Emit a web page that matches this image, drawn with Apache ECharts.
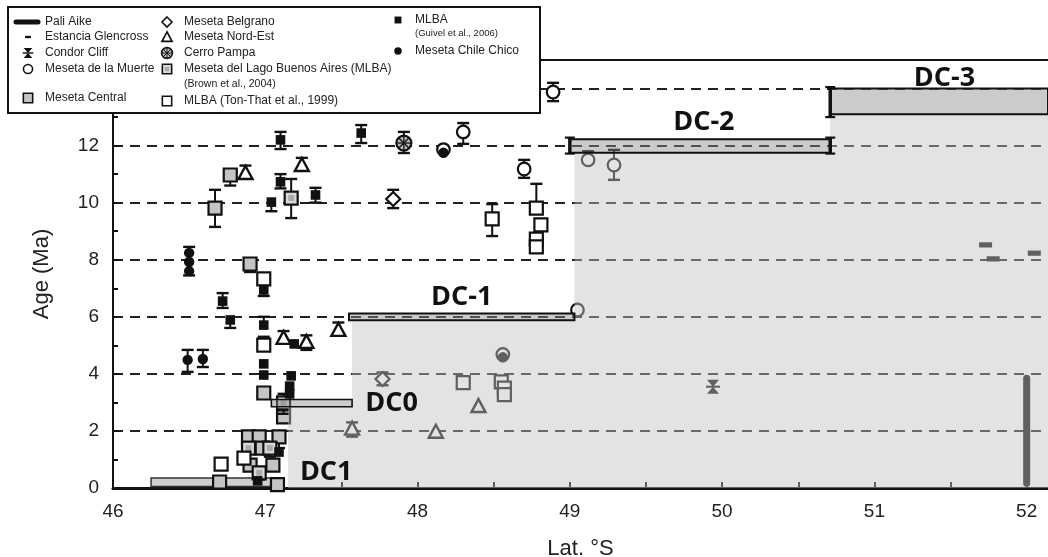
<!DOCTYPE html>
<html><head><meta charset="utf-8">
<script src="https://cdn.jsdelivr.net/npm/echarts@6/dist/echarts.min.js"></script>
<style>html,body{margin:0;padding:0;background:#fff}#c{width:1048px;height:557px}</style>
</head><body><div id="c"></div><script>
// ---------- tick labels ----------
const xLabelValues = [46, 47, 48, 49, 50, 51, 52];
const yLabelValues = [0, 2, 4, 6, 8, 10, 12, 14];

// ---------- data: [lat, age, errLow, errHigh] ----------
const paliAike = [[52.0, 0.17, 3.85]]; // [lat, ageFrom, ageTo]
const estanciaGlencross = [[51.73, 8.52], [51.78, 8.03], [52.05, 8.23]];
const condorCliff = [[49.94, 3.55]];
const mesetaMuerte = [[48.30, 12.48, 12.06, 12.79], [48.17, 11.86, null, null], [48.89, 13.88, 13.56, 14.2],
  [48.70, 11.18, 10.87, 11.5], [49.12, 11.5, null, 11.8], [49.29, 11.32, 10.8, 11.85], [49.05, 6.24, null, null],
  [48.56, 4.68, null, null]];
const mesetaCentral = [[46.67, 9.81, 9.15, 10.45], [46.77, 10.97, 10.6, null], [46.90, 7.85, 7.57, null],
  [46.99, 3.33, null, null], [47.12, 2.49, null, null], [46.70, 0.21, null, null], [46.89, 1.79, 1.45, null],
  [46.96, 1.79, null, null], [47.09, 1.79, 1.4, null], [46.98, 1.40, null, null], [46.90, 0.80, null, null],
  [47.05, 0.80, null, null], [47.08, 0.12, null, null]];
const mlbaBrown = [[47.17, 10.16, 9.46, 10.83], [47.12, 2.98, 2.6, 3.3], [46.89, 1.40, null, null],
  [47.03, 1.40, 1.1, null], [46.96, 0.53, 0.3, null]];
const mlbaTonThat = [[46.99, 7.33, null, null], [46.99, 5.01, 4.85, 5.3], [48.49, 9.43, 8.83, 9.95],
  [48.78, 9.81, null, 10.66], [48.81, 9.22, null, null], [48.78, 8.72, null, null], [48.78, 8.45, null, null],
  [48.30, 3.69, null, null], [48.55, 3.72, null, null], [48.57, 3.50, null, null], [48.57, 3.27, null, null],
  [46.71, 0.84, null, null], [46.86, 1.05, null, null]];
const mesetaBelgrano = [[47.84, 10.13, 9.81, 10.45], [47.77, 3.82, 3.6, 4.05]];
const mesetaNordEst = [[46.87, 11.04, null, 11.3], [47.24, 11.32, null, 11.57], [47.12, 5.26, null, 5.5],
  [47.27, 5.12, 4.84, 5.35], [47.48, 5.54, null, 5.8], [47.57, 2.08, 1.8, 2.3], [48.12, 1.97, 1.85, null],
  [48.40, 2.87, null, null]];
const cerroPampa = [[47.91, 12.09, 11.74, 12.48]];
const mlbaGuivel = [[47.10, 12.2, 11.88, 12.48], [47.10, 10.73, 10.5, 11.0], [47.04, 10.02, 9.7, null],
  [47.33, 10.27, 10.0, 10.52], [47.63, 12.44, 12.09, 12.72], [46.99, 6.94, 6.73, null], [46.72, 6.55, 6.31, 6.83],
  [46.77, 5.89, 5.61, null], [46.99, 5.71, null, 6.0], [46.99, 4.35, null, null], [46.99, 3.96, null, null],
  [47.19, 5.05, null, null], [47.17, 3.93, null, null], [47.16, 3.57, null, null], [47.16, 3.30, null, null],
  [47.09, 1.26, null, null], [46.95, 0.25, null, null]];
const mesetaChileChico = [[46.50, 8.24, null, null], [46.50, 7.92, 7.45, 8.45], [46.50, 7.6, null, null],
  [46.49, 4.49, 4.07, 4.84], [46.59, 4.52, 4.24, 4.84], [48.17, 11.75, null, null], [48.56, 4.58, null, null]];

// ---------- shaded domain (step outline) ----------
const overlayLat = [47.15, 47.57, 49.03, 50.71, 52.14];
const overlayTop = [2.85, 5.88, 11.75, 13.1];

// ---------- DC bars ----------
const dcBarLat0 = [46.25, 47.04, 47.55, 49.0, 50.71];
const dcBarLat1 = [47.08, 47.57, 49.03, 50.71, 52.14];
const dcBarLo = [0.05, 2.85, 5.88, 11.75, 13.1];
const dcBarHi = [0.35, 3.1, 6.12, 12.22, 14.0];
const dcMarkLat = [49.0, 50.71, 50.71];
const dcMarkLo = [11.72, 11.72, 13.0];
const dcMarkHi = [12.28, 12.28, 14.05];
const dcLabels = ['DC1', 'DC0', 'DC-1', 'DC-2', 'DC-3'];
const dcLabelLat = [47.40, 47.83, 48.29, 49.88, 51.46];
const dcLabelAge = [0.56, 2.98, 6.70, 12.83, 14.37];

// ---------- drawing helpers ----------
const INK = '#111';
function ln(x1, y1, x2, y2, w, color) {
  return {type: 'line', shape: {x1, y1, x2, y2}, style: {stroke: color || INK, lineWidth: w || 2}};
}
function marker(kind, x, y, s) {
  const k = s || 1;
  const lw = 2.2 * k;
  if (kind === 'sqGray' || kind === 'sqBrown' || kind === 'sqWhite') {
    const h = 6.5 * k;
    const fill = kind === 'sqGray' ? '#c4c4c4' : kind === 'sqBrown' ? '#d8d8d8' : '#fff';
    const els = [{type: 'rect', shape: {x: x - h, y: y - h, width: 2 * h, height: 2 * h}, style: {fill, stroke: INK, lineWidth: lw}}];
    if (kind === 'sqBrown') els.push({type: 'rect', shape: {x: x - h * 0.45, y: y - h * 0.45, width: h * 0.9, height: h * 0.9}, style: {fill: '#aaa'}});
    return els;
  }
  if (kind === 'sqBlack') {
    const h = 4.8 * k;
    return [{type: 'rect', shape: {x: x - h, y: y - h, width: 2 * h, height: 2 * h}, style: {fill: INK}}];
  }
  if (kind === 'circBlack') return [{type: 'circle', shape: {cx: x, cy: y, r: 5.2 * k}, style: {fill: INK}}];
  if (kind === 'circOpen') return [{type: 'circle', shape: {cx: x, cy: y, r: 6.3 * k}, style: {fill: '#fff', stroke: INK, lineWidth: lw}}];
  if (kind === 'diamond') {
    const r = 7 * k;
    return [{type: 'polygon', shape: {points: [[x, y - r], [x + r, y], [x, y + r], [x - r, y]]}, style: {fill: '#fff', stroke: INK, lineWidth: lw}}];
  }
  if (kind === 'tri') {
    const r = 7 * k;
    return [{type: 'polygon', shape: {points: [[x, y - r], [x + r, y + r * 0.85], [x - r, y + r * 0.85]]}, style: {fill: '#fff', stroke: INK, lineWidth: 2.4 * k}}];
  }
  if (kind === 'cerro') {
    const r = 7.5 * k, d = r * 0.7;
    return [{type: 'circle', shape: {cx: x, cy: y, r}, style: {fill: '#bbb', stroke: INK, lineWidth: lw}},
      ln(x - r, y, x + r, y, 1.3 * k), ln(x, y - r, x, y + r, 1.3 * k),
      ln(x - d, y - d, x + d, y + d, 1.3 * k), ln(x - d, y + d, x + d, y - d, 1.3 * k)];
  }
  if (kind === 'condor') {
    const w = 6 * k, h = 7 * k;
    return [{type: 'polygon', shape: {points: [[x - w, y - h], [x + w, y - h], [x - w, y + h], [x + w, y + h]]}, style: {fill: INK}},
      ln(x - w - 1, y, x + w + 1, y, 2 * k)];
  }
  if (kind === 'dash') {
    return [{type: 'rect', shape: {x: x - 6.5 * k, y: y - 2.6 * k, width: 13 * k, height: 5.2 * k}, style: {fill: INK}}];
  }
  return [];
}

function pointSeries(name, arr, kind) {
  return {
    type: 'custom', name, z: 2, clip: false,
    data: arr.map(d => [d[0], d[1]]),
    renderItem: (params, api) => {
      const d = arr[params.dataIndex];
      const p = api.coord([d[0], d[1]]);
      const children = [];
      const lo = d[2], hi = d[3];
      if (lo != null || hi != null) {
        const a = api.coord([d[0], lo != null ? lo : d[1]]);
        const b = api.coord([d[0], hi != null ? hi : d[1]]);
        children.push(ln(p[0], a[1], p[0], b[1], 2));
        if (lo != null) children.push(ln(p[0] - 6, a[1], p[0] + 6, a[1], 2.4));
        if (hi != null) children.push(ln(p[0] - 6, b[1], p[0] + 6, b[1], 2.4));
      }
      marker(kind, p[0], p[1], 1).forEach(e => children.push(e));
      return {type: 'group', children};
    }
  };
}

const series = [
  {
    type: 'custom', name: 'DC1 bar', z: 1, data: [0],
    renderItem: (params, api) => {
      const a = api.coord([dcBarLat0[0], dcBarHi[0]]), b = api.coord([dcBarLat1[0], dcBarLo[0]]);
      return {type: 'rect', shape: {x: a[0], y: a[1], width: b[0] - a[0], height: b[1] - a[1]},
        style: {fill: '#cfcfcf', stroke: '#333', lineWidth: 1.5}};
    }
  },
  pointSeries('Meseta Central', mesetaCentral, 'sqGray'),
  pointSeries('MLBA (Brown et al., 2004)', mlbaBrown, 'sqBrown'),
  pointSeries('MLBA (Ton-That et al., 1999)', mlbaTonThat, 'sqWhite'),
  pointSeries('Meseta de la Muerte', mesetaMuerte, 'circOpen'),
  pointSeries('Meseta Belgrano', mesetaBelgrano, 'diamond'),
  pointSeries('Meseta Nord-Est', mesetaNordEst, 'tri'),
  pointSeries('Cerro Pampa', cerroPampa, 'cerro'),
  pointSeries('Meseta Chile Chico', mesetaChileChico, 'circBlack'),
  pointSeries('MLBA (Guivel et al., 2006)', mlbaGuivel, 'sqBlack'),
  pointSeries('Condor Cliff', condorCliff, 'condor'),
  pointSeries('Estancia Glencross', estanciaGlencross, 'dash'),
  {
    type: 'custom', name: 'Pali Aike', z: 2, data: paliAike.map(d => [d[0], d[1]]),
    renderItem: (params, api) => {
      const d = paliAike[params.dataIndex];
      const a = api.coord([d[0], d[1]]), b = api.coord([d[0], d[2]]);
      return {type: 'line', shape: {x1: a[0], y1: a[1], x2: b[0], y2: b[1]},
        style: {stroke: INK, lineWidth: 7, lineCap: 'round'}};
    }
  },
  {
    type: 'custom', name: 'domain', z: 3, data: [0], silent: true,
    renderItem: (params, api) => {
      const pts = [api.coord([overlayLat[0], 0])];
      for (let i = 0; i < overlayTop.length; i++) {
        pts.push(api.coord([overlayLat[i], overlayTop[i]]));
        pts.push(api.coord([overlayLat[i + 1], overlayTop[i]]));
      }
      pts.push(api.coord([overlayLat[overlayLat.length - 1], 0]));
      return {type: 'polygon', shape: {points: pts}, style: {fill: 'rgba(190,192,197,0.45)'}};
    }
  },
  {
    type: 'custom', name: 'DC bars', z: 4, data: dcBarLat0.slice(1).map((v, i) => i + 1),
    renderItem: (params, api) => {
      const i = params.dataIndex + 1;
      const a = api.coord([dcBarLat0[i], dcBarHi[i]]), b = api.coord([dcBarLat1[i], dcBarLo[i]]);
      return {type: 'rect', shape: {x: a[0], y: a[1], width: b[0] - a[0], height: b[1] - a[1]},
        style: {fill: 'rgba(140,140,140,0.45)', stroke: INK, lineWidth: i < 2 ? 1.6 : 2}};
    }
  },
  {
    type: 'custom', name: 'DC marks', z: 5, data: dcMarkLat.map((v, i) => i),
    renderItem: (params, api) => {
      const i = params.dataIndex;
      const a = api.coord([dcMarkLat[i], dcMarkLo[i]]), b = api.coord([dcMarkLat[i], dcMarkHi[i]]);
      return {type: 'group', children: [ln(a[0], a[1], b[0], b[1], 3.5), ln(a[0] - 5, a[1], a[0] + 5, a[1], 2.2), ln(b[0] - 5, b[1], b[0] + 5, b[1], 2.2)]};
    }
  },
  {
    type: 'custom', name: 'DC labels', z: 6, data: dcLabels.map((v, i) => i),
    renderItem: (params, api) => {
      const i = params.dataIndex;
      const p = api.coord([dcLabelLat[i], dcLabelAge[i]]);
      return {type: 'text', x: p[0], y: p[1], style: {text: dcLabels[i], font: 'bold 27px "Open Sans"', fill: '#111', align: 'center', verticalAlign: 'middle'}};
    }
  }
];

// ---------- legend (drawn as graphic) ----------
const legendRows = [
  {kind: 'pali', label: 'Pali Aike', x: 28, y: 22},
  {kind: 'dash', label: 'Estancia Glencross', x: 28, y: 37},
  {kind: 'condor', label: 'Condor Cliff', x: 28, y: 53},
  {kind: 'circOpen', label: 'Meseta de la Muerte', x: 28, y: 69},
  {kind: 'sqGray', label: 'Meseta Central', x: 28, y: 98},
  {kind: 'diamond', label: 'Meseta Belgrano', x: 167, y: 22},
  {kind: 'tri', label: 'Meseta Nord-Est', x: 167, y: 37},
  {kind: 'cerro', label: 'Cerro Pampa', x: 167, y: 53},
  {kind: 'sqBrown', label: 'Meseta del Lago Buenos Aires (MLBA)', x: 167, y: 69, sub: '(Brown et al., 2004)', subY: 84},
  {kind: 'sqWhite', label: 'MLBA (Ton-That et al., 1999)', x: 167, y: 101},
  {kind: 'sqBlack', label: 'MLBA', x: 398, y: 20, sub: '(Guivel et al., 2006)', subY: 33},
  {kind: 'circBlack', label: 'Meseta Chile Chico', x: 398, y: 51}
];
const FONT = '"Liberation Sans", Arial, sans-serif';
const graphics = [{type: 'rect', shape: {x: 8, y: 7, width: 532, height: 106}, style: {fill: '#fff', stroke: INK, lineWidth: 2}}];
legendRows.forEach(r => {
  if (r.kind === 'pali') graphics.push({type: 'line', shape: {x1: 16, y1: r.y, x2: 38, y2: r.y}, style: {stroke: INK, lineWidth: 5, lineCap: 'round'}});
  else marker(r.kind, r.x, r.y, r.kind === 'dash' ? 0.45 : 0.72).forEach(e => graphics.push(e));
  graphics.push({type: 'text', x: r.x + 17, y: r.y, style: {text: r.label, font: '12px ' + FONT, fill: '#222', verticalAlign: 'middle'}});
  if (r.sub) graphics.push({type: 'text', x: r.x + 17, y: r.subY, style: {text: r.sub, font: (r.kind === 'sqBlack' ? '9.5px ' : '10.5px ') + FONT, fill: '#222', verticalAlign: 'middle'}});
});
graphics.forEach(g => { g.z = 100; });

const isInt = v => Math.abs(v - Math.round(v)) < 1e-6;
const option = {
  backgroundColor: '#fff',
  animation: false,
  grid: {left: 113, right: 0, top: 60, bottom: 69, containLabel: false, outerBoundsMode: 'none'},
  xAxis: [{
    type: 'value', min: 46, max: 52.14, interval: 0.5, position: 'bottom',
    axisLine: {lineStyle: {color: INK, width: 3}},
    axisTick: {inside: true, length: 6, lineStyle: {color: INK, width: 2}},
    axisLabel: {formatter: v => (isInt(v) && xLabelValues.includes(Math.round(v))) ? String(Math.round(v)) : '',
      margin: 14, fontSize: 19, color: '#222', fontFamily: FONT, showMaxLabel: false},
    splitLine: {show: false},
    name: 'Lat. °S', nameLocation: 'middle', nameGap: 50,
    nameTextStyle: {fontSize: 22, color: '#222', fontFamily: FONT}
  }, {
    type: 'value', min: 46, max: 52.14, position: 'top',
    axisLine: {show: true, lineStyle: {color: INK, width: 2}},
    axisTick: {show: false}, axisLabel: {show: false}, splitLine: {show: false}
  }],
  yAxis: {
    type: 'value', min: 0, max: 15, interval: 2,
    axisLine: {show: true, lineStyle: {color: INK, width: 2}},
    axisTick: {show: true, inside: true, length: 6, lineStyle: {color: INK, width: 2}},
    minorTick: {show: true, splitNumber: 2, length: 5, lineStyle: {color: INK, width: 2}},
    axisLabel: {formatter: v => (isInt(v) && yLabelValues.includes(Math.round(v))) ? String(Math.round(v)) : '',
      margin: 14, fontSize: 19, color: '#222', fontFamily: FONT, showMaxLabel: false},
    splitLine: {show: true, lineStyle: {type: [10, 7], width: 2, color: '#222'}},
    name: 'Age (Ma)', nameLocation: 'middle', nameGap: 60, nameRotate: 90,
    nameTextStyle: {fontSize: 22, color: '#222', fontFamily: FONT}
  },
  graphic: graphics,
  series
};
const chart = echarts.init(document.getElementById('c'), null, {renderer: 'canvas'});
chart.setOption(option);
</script></body></html>
